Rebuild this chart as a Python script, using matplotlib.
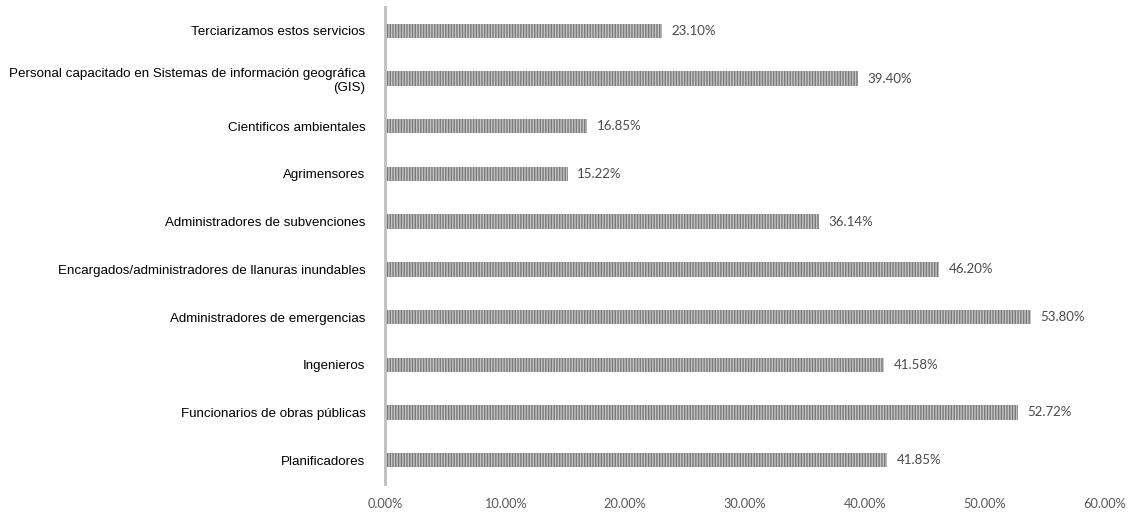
import matplotlib
matplotlib.use("Agg")
from matplotlib import pyplot as plt
from matplotlib.ticker import FuncFormatter

categories = [
    "Planificadores",
    "Funcionarios de obras públicas",
    "Ingenieros",
    "Administradores de emergencias",
    "Encargados/administradores de llanuras inundables",
    "Administradores de subvenciones",
    "Agrimensores",
    "Cientificos ambientales",
    "Personal capacitado en Sistemas de información geográfica\n(GIS)",
    "Terciarizamos estos servicios",
]
values = [41.85, 52.72, 41.58, 53.80, 46.20, 36.14, 15.22, 16.85, 39.40, 23.10]
xticks = [0, 10, 20, 30, 40, 50, 60]

plt.rcParams["hatch.linewidth"] = 1.0

fig = plt.figure(figsize=(11.31, 5.14), dpi=100)
ax = fig.add_axes([385 / 1131, 30 / 514, 720 / 1131, 477 / 514])

pos = list(range(len(categories)))
ax.barh(pos, values, height=0.3, color="#c4c4c4", edgecolor="#7a7a7a",
        hatch="||||||", linewidth=0)

for y, v in zip(pos, values):
    ax.text(v + 0.8, y, f"{v:.2f}%", va="center", ha="left",
            fontsize=9.5, color="#4a4a4a", family="Lato")

ax.set_xlim(0, 60)
ax.set_ylim(-0.5, len(categories) - 0.5)
ax.set_xticks(xticks)
ax.xaxis.set_major_formatter(FuncFormatter(lambda x, _: f"{x:.2f}%"))
for lbl in ax.get_xticklabels():
    lbl.set_family("Lato")
ax.tick_params(axis="x", length=0, labelsize=9.2, labelcolor="#595959", pad=10)
ax.set_yticks(pos)
ax.set_yticklabels(categories, fontsize=9.6, family="Liberation Sans",
                   ha="right", multialignment="right")
ax.tick_params(axis="y", length=0, pad=14)

for s in ["top", "right", "bottom"]:
    ax.spines[s].set_visible(False)
ax.spines["left"].set_color("#bfbfbf")
ax.spines["left"].set_linewidth(2)

fig.savefig("out.png", dpi=100)
